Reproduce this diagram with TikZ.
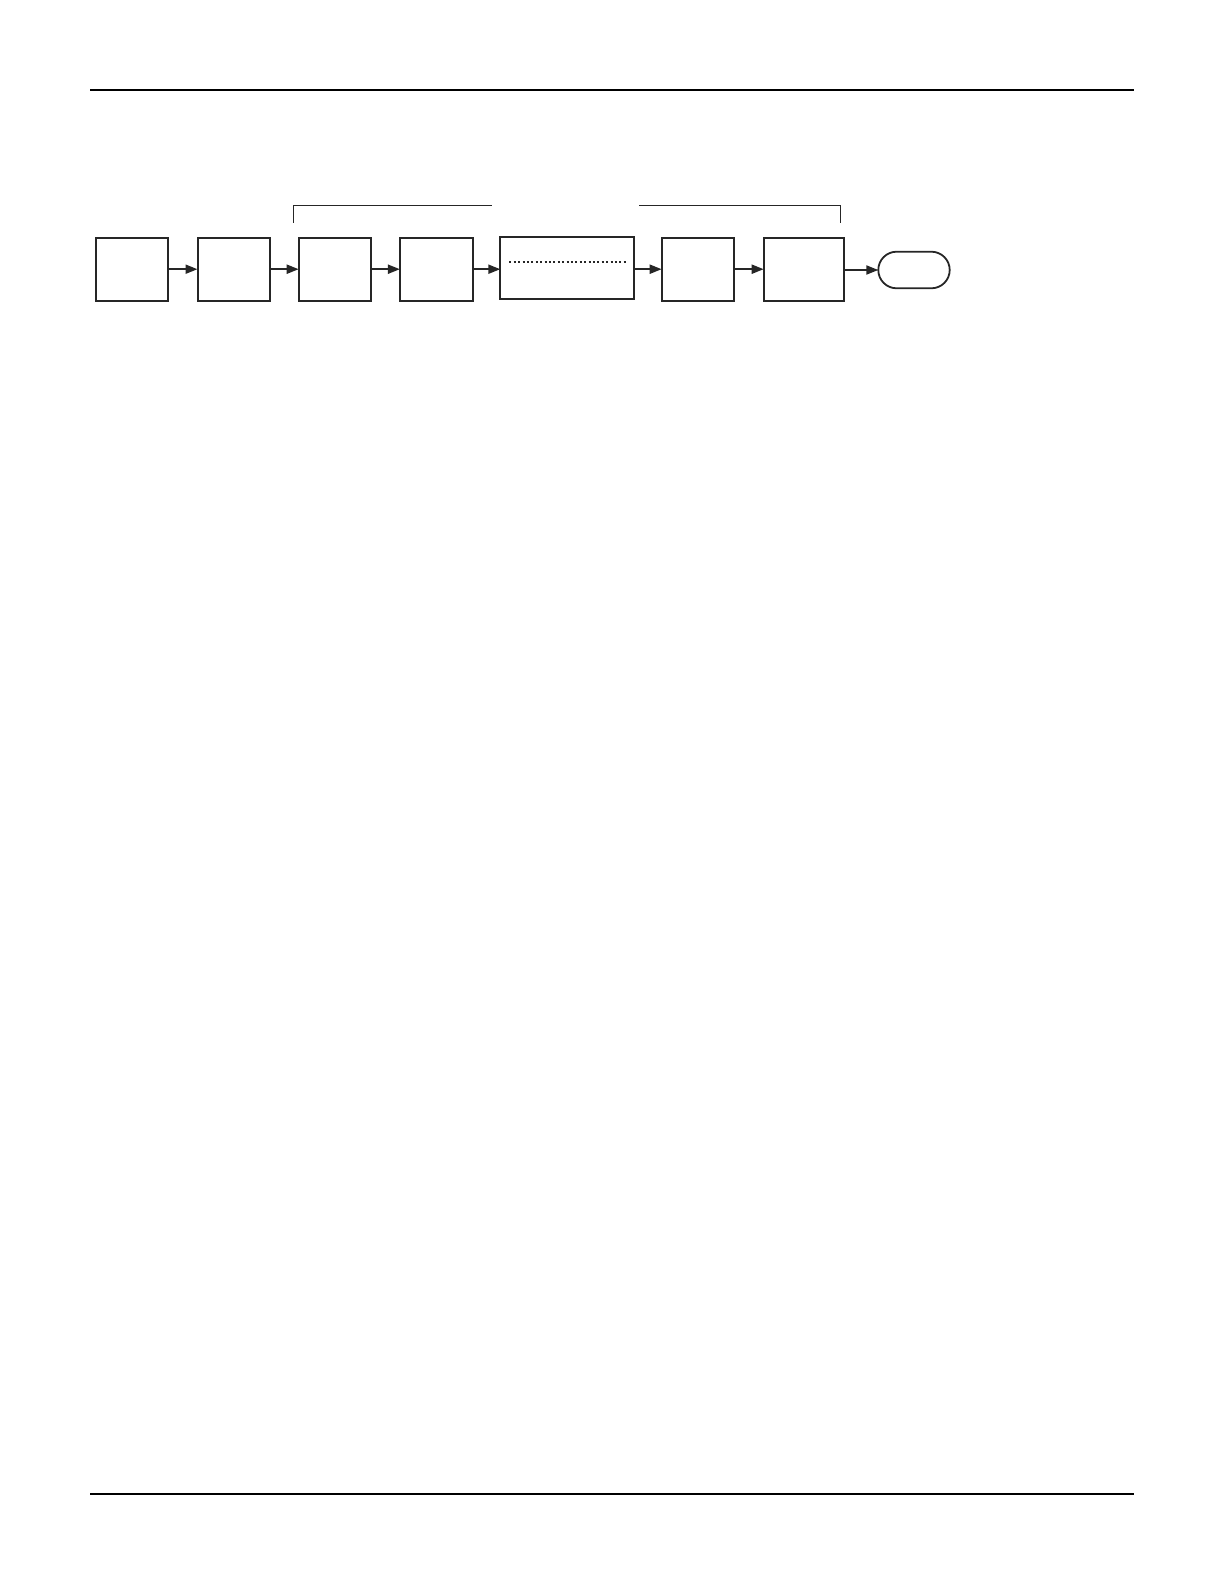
\documentclass[tikz,border=0pt]{standalone}
\usetikzlibrary{arrows.meta,shapes.misc}

\begin{document}
\begin{tikzpicture}[x=0.5pt, y=-0.5pt,
		box_style/.style={rectangle,draw=black!85,line width=1pt,minimum width=36.3pt,minimum height=31.5pt,inner sep=0pt,outer sep=0pt},
		end_style/.style={rounded rectangle,draw=black!85,line width=0.9pt,minimum width=35.7pt,minimum height=18.3pt,inner sep=0pt,outer sep=0pt},
		edge_style/.style={draw=black!85,line width=1pt,-{Triangle[length=6pt,width=4.5pt]}},
		bracket_style/.style={draw=black!85,line width=0.5pt},
		dot_style/.style={draw=black!85,line width=1pt,dash pattern=on 1pt off 1.2pt},
		rule_style/.style={draw=black,line width=1pt}]

		\useasboundingbox (0,0) rectangle (1224,1584);

		\draw[rule_style] (90,89.7) -- (1133.7,89.7);
		\draw[rule_style] (90,1493.7) -- (1133.7,1493.7);

		\node[box_style] (b1) at (132,269.2) {};
		\node[box_style] (b2) at (233.8,269.2) {};
		\node[box_style] (b3) at (335,269.2) {};
		\node[box_style] (b4) at (436.2,269.2) {};
		\node[box_style,minimum width=67pt,minimum height=31.2pt] (b5) at (567.3,268) {};
		\node[box_style] (b6) at (698,269.2) {};
		\node[box_style,minimum width=40.3pt] (b7) at (804,269.2) {};
		\node[end_style] (fin) at (914,270) {};

		\draw[dot_style] (509.3,262) -- (626.7,262);

		\draw[edge_style] (b1) -- (b2);
		\draw[edge_style] (b2) -- (b3);
		\draw[edge_style] (b3) -- (b4);
		\draw[edge_style] (b4.east) -- (b4.east -| b5.west);
		\draw[edge_style] (b5.east |- b6.west) -- (b6.west);
		\draw[edge_style] (b6) -- (b7);
		\draw[edge_style] (b7.east |- fin.west) -- (fin.west);

		\coordinate (g1) at (293.3,222.7);
		\coordinate (g2) at (840.5,223);
		\draw[bracket_style] (g1) |- (492,205.3);
		\draw[bracket_style] (639.3,205.3) -| (g2);

		\end{tikzpicture}
\end{document}
